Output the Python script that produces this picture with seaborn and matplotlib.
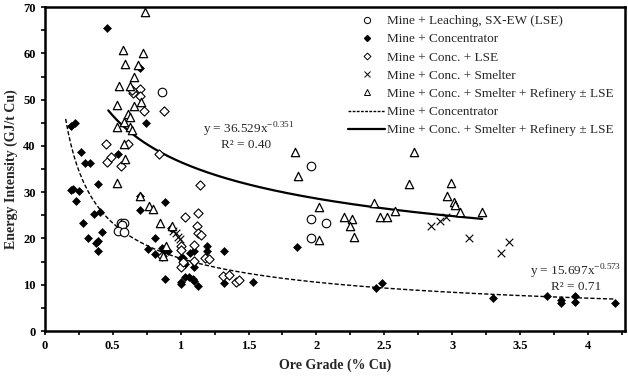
import numpy as np
import pandas as pd
import seaborn as sns
import matplotlib
matplotlib.use("Agg")
import matplotlib.pyplot as plt
from matplotlib.ticker import MultipleLocator
from matplotlib.lines import Line2D

#%% data

lse_x = [0.86, 0.56, 0.58, 0.57, 0.54, 0.585, 1.96, 1.96, 2.07, 1.96]
lse_y = [51.7, 23.4, 23.3, 22.9, 21.7, 21.5, 35.6, 24.2, 23.3, 20.2]

conc_x = [0.46, 0.19, 0.22, 0.27, 0.30, 0.33, 0.39, 0.19, 0.21, 0.25, 0.54, 0.745,
          0.70, 0.70, 0.70, 0.23, 0.28, 0.36, 0.41, 0.32, 0.42, 0.39, 0.38, 0.39,
          0.885, 0.81, 0.76, 0.81, 0.86, 0.88, 0.91, 0.885, 1.0, 1.0, 1.03, 1.06,
          1.09, 1.10, 1.125, 0.93, 1.0, 1.02, 1.03, 1.10, 1.10, 1.10, 1.07, 1.196,
          1.196, 1.32, 1.32, 1.53, 1.86, 2.44, 2.48, 3.30, 3.70, 3.80, 3.80, 3.90,
          3.90, 4.20]
conc_y = [65.6, 44.4, 45.0, 38.6, 36.4, 36.4, 31.8, 30.4, 30.8, 30.3, 38.3, 45.0,
          56.9, 29.1, 26.2, 28.0, 23.3, 25.3, 25.8, 20.0, 21.4, 19.5, 19.0, 17.2,
          27.9, 20.1, 17.7, 16.7, 17.9, 17.4, 17.2, 11.2, 10.5, 10.2, 11.6, 11.6,
          11.2, 10.8, 9.7, 22.2, 15.7, 15.7, 14.5, 17.3, 13.8, 14.9, 16.8, 18.4,
          17.2, 17.4, 10.3, 10.6, 18.2, 9.4, 10.3, 7.2, 7.6, 6.6, 6.1, 7.6,
          6.3, 6.1]

clse_x = [0.70, 0.65, 0.64, 0.705, 0.73, 0.88, 0.45, 0.615, 0.46, 0.49, 0.56, 0.84,
          1.14, 1.03, 1.125, 1.12, 1.13, 1.15, 1.0, 1.0, 1.10, 1.0, 1.02, 1.10,
          1.18, 1.21, 1.31, 1.36, 1.41, 1.43, 0.865]
clse_y = [52.3, 51.4, 52.2, 50.9, 47.5, 47.5, 40.5, 40.5, 36.6, 37.6, 35.6, 38.3,
          31.5, 24.6, 25.5, 22.8, 21.1, 20.8, 18.3, 17.5, 18.6, 13.8, 14.9, 15.2,
          15.7, 15.5, 11.8, 12.0, 10.7, 11.0, 16.2]

smelt_x = [0.945, 0.965, 0.98, 0.995, 2.84, 2.91, 2.95, 3.12, 3.36, 3.42]
smelt_y = [21.7, 21.1, 20.4, 19.8, 22.6, 23.8, 24.7, 20.2, 16.9, 19.3]

ref_x = [0.735, 0.575, 0.72, 0.59, 0.69, 0.55, 0.63, 0.66, 0.53, 0.66, 0.71, 0.61,
         0.63, 0.58, 0.53, 0.63, 0.64, 0.58, 0.59, 0.53, 1.845, 1.865, 0.70, 0.77,
         0.80, 0.85, 0.94, 0.89, 0.87, 2.68, 2.99, 2.96, 3.01, 3.02, 3.06, 3.22,
         2.42, 2.47, 2.52, 2.58, 2.20, 2.26, 2.25, 2.28, 2.02, 2.02, 2.72]
ref_y = [69.0, 60.8, 60.1, 57.7, 57.6, 53.0, 53.0, 54.8, 48.9, 48.6, 49.4, 46.8,
         46.3, 45.2, 44.2, 44.2, 43.4, 40.5, 37.2, 32.0, 38.8, 33.5, 29.1, 27.1,
         26.4, 23.3, 22.8, 18.3, 16.2, 31.8, 32.0, 29.2, 27.8, 27.3, 25.8, 25.7,
         27.6, 24.7, 24.7, 26.0, 24.7, 24.2, 22.7, 20.3, 26.7, 19.7, 38.8]

# power-law trendlines as printed on the chart
fit_conc = (15.697, -0.573, 0.154, 4.2)   # a, b, x from, x to
fit_ref = (36.529, -0.351, 0.468, 3.22)

labels = ["Mine + Leaching, SX-EW (LSE)", "Mine + Concentrator", "Mine + Conc. + LSE",
          "Mine + Conc. + Smelter", "Mine + Conc. + Smelter + Refinery \u00b1 LSE"]

#%% plot

sns.set_style('ticks')
plt.rcParams['font.family'] = ['Liberation Serif', 'DejaVu Serif']
plt.rcParams['mathtext.fontset'] = 'custom'
plt.rcParams['mathtext.rm'] = 'Liberation Serif'

fig = plt.figure(figsize=(6.28, 3.77), dpi=100)
ax = fig.add_axes([0.0712, 0.122, 0.9238, 0.859])

sns.scatterplot(x=lse_x, y=lse_y, ax=ax, marker='o', s=38, facecolor='white',
                edgecolor='black', linewidth=0.8, zorder=3)
sns.scatterplot(x=conc_x, y=conc_y, ax=ax, marker='D', s=16, color='black',
                edgecolor='black', linewidth=0.5, zorder=3)
sns.scatterplot(x=clse_x, y=clse_y, ax=ax, marker='D', s=22, facecolor='white',
                edgecolor='black', linewidth=0.8, zorder=3)
sns.scatterplot(x=smelt_x, y=smelt_y, ax=ax, marker='x', s=30, color='black',
                linewidth=0.8, zorder=3)
sns.scatterplot(x=ref_x, y=ref_y, ax=ax, marker='^', s=36, facecolor='white',
                edgecolor='black', linewidth=0.9, zorder=3)

for (a, b, x0, x1), ls, lw in [(fit_conc, (0, (3, 1.5)), 1.0), (fit_ref, '-', 1.6)]:
    xx = np.linspace(x0, x1, 200)
    df = pd.DataFrame({'x': xx, 'y': a * xx ** b})
    sns.lineplot(data=df, x='x', y='y', ax=ax, color='black', linewidth=lw,
                 linestyle=ls, zorder=2)

ax.set_xlim(0, 4.27)
ax.set_ylim(0, 70)
ax.set_xticks(np.arange(0, 4.01, 0.5))
ax.set_xticklabels(["0", "0.5", "1", "1.5", "2", "2.5", "3", "3.5", "4"])
ax.set_yticks(range(0, 71, 10))
ax.xaxis.set_minor_locator(MultipleLocator(0.25))
ax.yaxis.set_minor_locator(MultipleLocator(5))
ax.tick_params(which='both', direction='out', length=3, width=1.2, colors='black',
               labelsize=9)
for lab in ax.get_xticklabels() + ax.get_yticklabels():
    lab.set_fontweight('bold')
for sp in ax.spines.values():
    sp.set_visible(True)
    sp.set_color('black')
    sp.set_linewidth(1.8)

ax.set_xlabel("Ore Grade (% Cu)", fontsize=10, fontweight='bold', labelpad=5)
ax.set_ylabel("Energy Intensity (GJ/t Cu)", fontsize=10, fontweight='bold', labelpad=4)

ax.text(1.5, 43.5, r"y = 36.529x$^{\mathregular{-0.351}}$", fontsize=9.5, ha='center', va='center')
ax.text(1.48, 40.3, "R\u00b2 = 0.40", fontsize=9.5, ha='center', va='center')
ax.text(3.91, 12.7, r"y = 15.697x$^{\mathregular{-0.573}}$", fontsize=9.5, ha='center', va='center')
ax.text(3.91, 9.6, "R\u00b2 = 0.71", fontsize=9.5, ha='center', va='center')

handles = [
    Line2D([], [], ls='none', marker='o', ms=4.5, mfc='white', mec='black', mew=0.7),
    Line2D([], [], ls='none', marker='D', ms=3, mfc='black', mec='black'),
    Line2D([], [], ls='none', marker='D', ms=3.5, mfc='white', mec='black', mew=0.7),
    Line2D([], [], ls='none', marker='x', ms=4.5, mec='black', mew=0.7),
    Line2D([], [], ls='none', marker='^', ms=4.5, mfc='white', mec='black', mew=0.7),
    Line2D([], [], color='black', lw=1.0, ls=(0, (2, 1))),
    Line2D([], [], color='black', lw=1.6),
]
leg_labels = labels + ["Mine + Concentrator", "Mine + Conc. + Smelter + Refinery \u00b1 LSE"]
ax.legend(handles, leg_labels, loc='upper right', frameon=False, fontsize=9.5,
          handlelength=2.8, handletextpad=0.15, labelspacing=0.45,
          borderaxespad=0.2, bbox_to_anchor=(0.995, 1.0))

plt.savefig('out.png', dpi=100)
